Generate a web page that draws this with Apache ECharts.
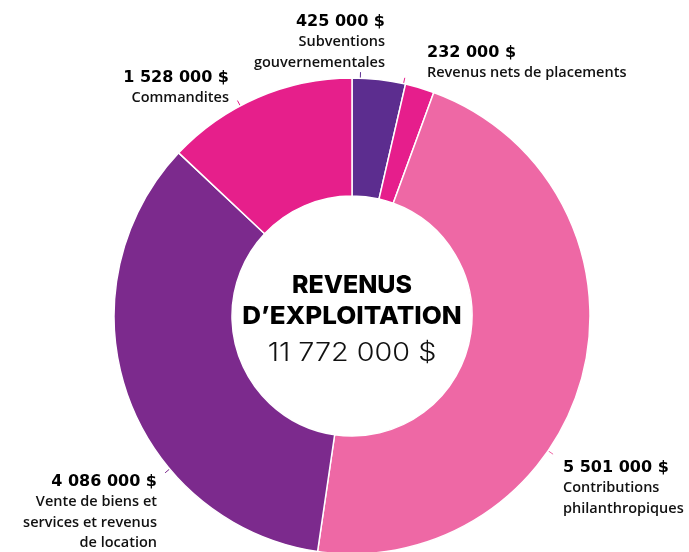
<!DOCTYPE html>
<html lang="fr">
<head>
    <meta charset="UTF-8">
    <title>Revenus d'exploitation</title>
    <script src="https://cdn.jsdelivr.net/npm/echarts@6/dist/echarts.min.js"></script>
    <style>
        html, body { margin: 0; padding: 0; background: #fff; }
    </style>
</head>
<body>

<div id="pie_wrap" style="width: 689px; height: 552px;"></div>

<script>
    // données
    var categories = [
        "Subventions\ngouvernementales",
        "Revenus nets de placements",
        "Contributions\nphilanthropiques",
        "Vente de biens et\nservices et revenus\nde location",
        "Commandites"
    ];
    var values = [425000, 232000, 5501000, 4086000, 1528000];
    var value_labels = ["425 000 $", "232 000 $", "5 501 000 $", "4 086 000 $", "1 528 000 $"];
    var total_label = "11 772 000 $";

    var color_arr = ["#5c2d8f", "#e61e8c", "#ee68a5", "#7c2a8d", "#e61f8b"];

    // où placer chaque étiquette (x, y, alignement) et angle du petit trait (degrés depuis midi)
    var label_pos = [
        [385, 11, "right"],
        [427, 42, "left"],
        [563, 457, "left"],
        [157, 471, "right"],
        [229, 67, "right"]
    ];
    var tick_angle = [2, 12.5, 124.5, 230, 332];

    var center = [352, 316];
    var outer_r = 238;

    var pie_obj = document.getElementById("pie_wrap");
    var myPie = echarts.init(pie_obj);

    var data = [];
    for (var i = 0; i < values.length; i++) {
        data.push({
            name: categories[i],
            value: values[i],
            itemStyle: { color: color_arr[i] }
        });
    }

    function tickPoint(deg, r) {
        var a = deg * Math.PI / 180;
        return [center[0] + r * Math.sin(a), center[1] - r * Math.cos(a)];
    }

    var option = {
        animation: false,
        graphic: [
            {
                type: "group",
                x: center[0],
                y: center[1],
                children: [
                    {
                        type: "text",
                        x: 0, y: -31,
                        style: {
                            text: "REVENUS", align: "center", verticalAlign: "middle",
                            font: "800 25px Inter", fill: "#000"
                        }
                    },
                    {
                        type: "text",
                        x: 0, y: 0,
                        scaleX: 1.04,
                        style: {
                            text: "D\u2019EXPLOITATION", align: "center", verticalAlign: "middle",
                            font: "800 25px Inter", fill: "#000"
                        }
                    },
                    {
                        type: "text",
                        x: 0, y: 37,
                        scaleX: 1.15,
                        style: {
                            text: total_label, align: "center", verticalAlign: "middle",
                            font: "300 25px Inter", fill: "#111"
                        }
                    }
                ]
            }
        ],
        series: [
            {
                type: "pie",
                center: center,
                radius: [120, outer_r],
                startAngle: 90,
                clockwise: true,
                avoidLabelOverlap: false,
                data: data,
                itemStyle: {
                    borderColor: "#fff",
                    borderWidth: 1.5
                },
                label: {
                    show: true,
                    position: "outside",
                    formatter: function (p) {
                        var lines = p.name.split("\n");
                        var s = "{v|" + value_labels[p.dataIndex] + "}";
                        for (var k = 0; k < lines.length; k++) {
                            s += "\n{n|" + lines[k] + "}";
                        }
                        return s;
                    },
                    rich: {
                        v: {
                            fontFamily: "DejaVu Sans", fontWeight: "bold", fontSize: 16,
                            color: "#000", lineHeight: 21
                        },
                        n: {
                            fontFamily: "Open Sans", fontWeight: 600, fontSize: 14.5,
                            color: "#111", lineHeight: 20.5
                        }
                    }
                },
                labelLine: {
                    show: true,
                    length: 6,
                    length2: 0,
                    lineStyle: { width: 1 }
                },
                labelLayout: function (params) {
                    var i = params.dataIndex;
                    var pos = label_pos[i];
                    return {
                        x: pos[0],
                        y: pos[1],
                        align: pos[2],
                        verticalAlign: "top",
                        labelLinePoints: [
                            tickPoint(tick_angle[i], outer_r),
                            tickPoint(tick_angle[i], outer_r + 6)
                        ]
                    };
                }
            }
        ]
    };

    myPie.setOption(option);
</script>
</body>
</html>
